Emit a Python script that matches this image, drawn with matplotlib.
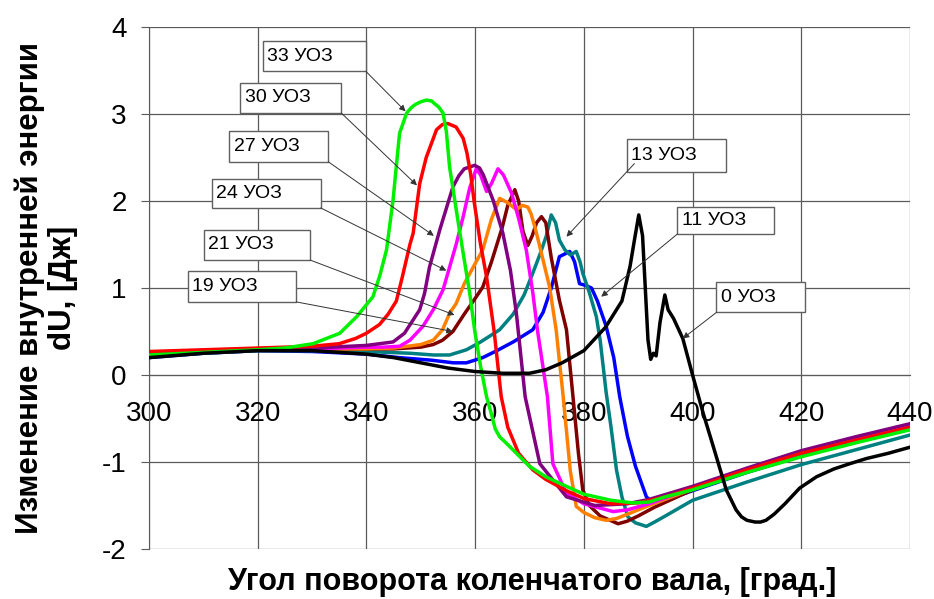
#!/usr/bin/env python3

import matplotlib
matplotlib.use("Agg")
import matplotlib.pyplot as plt
from matplotlib.patches import Rectangle

# curves: crank angle (deg) and dU (J)
x_0 = [300, 310, 320, 330, 340, 345, 350, 355, 360, 365, 370, 373, 376, 380, 384, 387, 388.5, 389.3, 390.1,
       390.8, 391.3, 391.8, 392.3, 392.8, 393.3, 394.0, 394.9, 395.5, 396.5, 398.2, 400, 402, 403.8, 406.2,
       408, 409, 410, 411.5, 412.5, 413.5, 415, 417, 419.7, 422.8, 426, 428.9, 432, 436, 440]
y_0 = [0.20, 0.25, 0.28, 0.28, 0.24, 0.20, 0.14, 0.08, 0.04, 0.02, 0.02, 0.06, 0.14, 0.28, 0.55, 0.85, 1.25, 1.55, 1.84,
       1.60, 1.00, 0.40, 0.18, 0.25, 0.22, 0.60, 0.92, 0.75, 0.65, 0.42, 0.00, -0.45, -0.82, -1.32,
       -1.55, -1.63, -1.67, -1.69, -1.69, -1.67, -1.60, -1.48, -1.30, -1.17, -1.08, -1.02, -0.96, -0.90, -0.83]

x_11 = [300, 310, 320, 330, 340, 346, 352, 356, 358.4, 361.4, 364, 367, 370.6, 372.5, 374, 375.5, 377.4, 378.3,
        379.2, 380.3, 381.4, 382.5, 384.1, 385.5, 386.6, 388, 389.5, 391.5, 392.5, 395, 400, 410, 420, 430, 440]
y_11 = [0.20, 0.25, 0.28, 0.27, 0.24, 0.20, 0.17, 0.14, 0.14, 0.20, 0.28, 0.38, 0.52, 0.72, 1.00, 1.36, 1.42, 1.30,
        1.05, 1.03, 1.00, 0.85, 0.56, 0.20, -0.25, -0.70, -1.05, -1.40, -1.46, -1.44, -1.33, -1.12, -0.93, -0.77, -0.62]

x_13 = [300, 310, 320, 330, 340, 348, 352.3, 355.3, 358.4, 361, 364.5, 367, 369, 370.6, 372, 373.1, 374.0, 374.8,
        375.5, 376.5, 377.5, 378.6, 379.3, 379.8, 381, 382.3, 383, 384.1, 385, 386, 387, 388.1, 389.5, 391.5,
        393, 395, 400, 410, 420, 430, 440]
y_13 = [0.21, 0.25, 0.28, 0.28, 0.27, 0.25, 0.23, 0.23, 0.29, 0.38, 0.52, 0.70, 0.92, 1.17, 1.40, 1.60, 1.84, 1.75,
        1.55, 1.44, 1.38, 1.42, 1.30, 1.17, 0.95, 0.67, 0.40, -0.20, -0.60, -1.09, -1.40, -1.63, -1.70, -1.74,
        -1.69, -1.62, -1.44, -1.23, -1.03, -0.86, -0.69]

x_19 = [300, 310, 320, 330, 340, 345, 350, 352.3, 354, 355.9, 358, 360, 361.4, 363, 365, 366, 367.3, 368, 368.8,
        369.7, 370.5, 371.3, 372.2, 373, 374, 375.5, 376.8, 378, 379, 379.8, 381, 383, 386.3, 388, 390, 393,
        400, 410, 420, 430, 440]
y_19 = [0.24, 0.27, 0.29, 0.30, 0.30, 0.30, 0.32, 0.35, 0.40, 0.50, 0.70, 0.88, 1.01, 1.30, 1.70, 1.95, 2.13, 2.00, 1.65,
        1.49, 1.60, 1.75, 1.82, 1.75, 1.35, 0.86, 0.52, -0.25, -0.90, -1.32, -1.50, -1.62, -1.71, -1.68, -1.62, -1.52,
        -1.32, -1.09, -0.89, -0.74, -0.59]

x_21 = [300, 310, 320, 330, 340, 345, 350, 352.3, 354, 355.3, 356.5, 358, 360, 361.4, 363, 364.5, 366, 367.6,
        368.7, 369.7, 370.3, 371, 372, 373.7, 374.9, 376.2, 377.5, 378.6, 380, 382, 384.1, 386, 388, 392,
        400, 410, 420, 430, 440]
y_21 = [0.24, 0.27, 0.29, 0.30, 0.30, 0.31, 0.35, 0.40, 0.52, 0.71, 0.82, 1.05, 1.28, 1.44, 1.79, 2.03, 1.98, 1.90,
        1.95, 1.93, 1.85, 1.70, 1.45, 1.01, 0.52, -0.25, -1.10, -1.51, -1.58, -1.64, -1.67, -1.65, -1.60, -1.50,
        -1.31, -1.09, -0.89, -0.74, -0.59]

x_24 = [300, 310, 320, 330, 340, 343, 346.1, 348, 350.4, 352.3, 354.1, 355.3, 356.5, 357.8, 359, 360.2, 361,
        362.1, 363, 364.2, 365.2, 366.7, 368, 369.4, 370.6, 371.5, 373.3, 374.3, 376.8, 380, 385.4, 388, 392,
        400, 410, 420, 430, 440]
y_24 = [0.24, 0.27, 0.29, 0.30, 0.32, 0.32, 0.33, 0.40, 0.56, 0.75, 0.98, 1.24, 1.50, 1.82, 2.15, 2.37, 2.30,
        2.11, 2.20, 2.37, 2.30, 2.09, 1.80, 1.44, 0.95, 0.50, -0.25, -1.02, -1.36, -1.48, -1.57, -1.55, -1.48,
        -1.30, -1.08, -0.88, -0.72, -0.58]

x_27 = [300, 310, 320, 330, 340, 344.9, 347, 349.8, 350.7, 351.6, 353.5, 355.9, 357, 358, 359.9, 360.8, 361.5, 363.3,
        365.1, 366.5, 367.6, 369.2, 371.9, 376.8, 382, 388, 392, 400, 410, 420, 430, 440]
y_27 = [0.25, 0.28, 0.30, 0.31, 0.34, 0.38, 0.48, 0.75, 0.94, 1.24, 1.67, 2.16, 2.29, 2.37, 2.41, 2.38, 2.30, 2.01,
        1.63, 1.20, 0.70, -0.25, -1.02, -1.40, -1.50, -1.48, -1.43, -1.28, -1.07, -0.87, -0.71, -0.56]

x_30 = [300, 310, 320, 330, 335, 338, 340, 342.4, 344, 345.5, 346.5, 348, 348.6, 349.8, 351, 352.9, 354, 355, 356.5,
        357.8, 358.5, 359.2, 359.8, 361, 362.1, 363.5, 364.8, 366, 368, 370.6, 373, 376.8, 380, 385, 390, 395,
        400, 410, 420, 430, 440]
y_30 = [0.27, 0.29, 0.31, 0.33, 0.36, 0.42, 0.48, 0.58, 0.70, 0.85, 1.10, 1.50, 1.63, 2.20, 2.50, 2.82, 2.88, 2.89, 2.85,
        2.72, 2.55, 2.30, 2.00, 1.50, 1.13, 0.50, -0.25, -0.60, -0.90, -1.09, -1.20, -1.33, -1.42, -1.48, -1.47, -1.40,
        -1.30, -1.09, -0.90, -0.75, -0.60]

x_33 = [300, 310, 320, 325, 330.2, 335.1, 338.2, 341.2, 342.5, 343.7, 344.9, 345.5, 346.1, 347.4, 348.2, 349, 350,
        351, 352, 352.5, 353.3, 354.1, 354.7, 355.3, 357.2, 359, 359.9, 361, 362.1, 363, 363.7, 364.5, 366, 367.6,
        370, 373, 376.8, 380, 385, 389, 392, 395, 400, 410, 420, 430, 440]
y_33 = [0.23, 0.26, 0.29, 0.31, 0.36, 0.48, 0.67, 0.90, 1.15, 1.44, 2.01, 2.40, 2.78, 3.01, 3.07, 3.11, 3.14,
        3.16, 3.15, 3.12, 3.08, 3.01, 2.80, 2.39, 1.63, 0.94, 0.52, 0.10, -0.25, -0.45, -0.62, -0.71, -0.80, -0.90,
        -1.05, -1.17, -1.28, -1.37, -1.44, -1.47, -1.46, -1.40, -1.32, -1.12, -0.94, -0.78, -0.63]

labels = ["0 УОЗ", "11 УОЗ", "13 УОЗ", "19 УОЗ", "21 УОЗ", "24 УОЗ", "27 УОЗ", "30 УОЗ", "33 УОЗ"]
xs = [x_0, x_11, x_13, x_19, x_21, x_24, x_27, x_30, x_33]
ys = [y_0, y_11, y_13, y_19, y_21, y_24, y_27, y_30, y_33]
colors = ["black", "#0000ff", "#008080", "#800000", "#ff8000", "#ff00ff", "#800080", "#ff0000", "#00f000"]

x_ticks = [300, 320, 340, 360, 380, 400, 420, 440]
y_ticks = [-2, -1, 0, 1, 2, 3, 4]

# callout boxes: (x0, x1, y0, y1) of box, arrow start, arrow tip
callouts = {
    "33 УОЗ": ((321.0, 339.9, 3.49, 3.84), (339.9, 3.49), (347.2, 3.03)),
    "30 УОЗ": ((316.8, 335.4, 3.01, 3.36), (335.4, 3.01), (349.3, 2.18)),
    "27 УОЗ": ((314.8, 333.0, 2.45, 2.80), (333.0, 2.45), (352.4, 1.60)),
    "24 УОЗ": ((311.5, 331.6, 1.92, 2.25), (331.6, 1.92), (354.7, 1.20)),
    "21 УОЗ": ((310.1, 329.7, 1.32, 1.67), (329.7, 1.32), (356.2, 0.69)),
    "19 УОЗ": ((307.2, 327.1, 0.84, 1.19), (327.1, 0.84), (355.9, 0.50)),
    "13 УОЗ": ((387.9, 406.1, 2.33, 2.71), (389.3, 2.43), (376.8, 1.59)),
    "11 УОЗ": ((397.2, 414.9, 1.62, 1.93), (397.2, 1.62), (383.2, 0.90)),
    "0 УОЗ": ((404.4, 420.6, 0.72, 1.07), (404.4, 0.72), (398.2, 0.42)),
}


def main():
    plt.rcParams['font.family'] = ['Liberation Sans', 'DejaVu Sans']
    plt.rcParams['axes.unicode_minus'] = False

    fig = plt.figure(figsize=(9.34, 5.99), dpi=100)
    ax = fig.add_axes([149 / 934, 1 - 549 / 599, 761 / 934, 522 / 599])

    order = [1, 2, 3, 4, 5, 6, 7, 8, 0]
    for i in order:
        ax.plot(xs[i], ys[i], color=colors[i], lw=2.5, solid_joinstyle='round', zorder=3)

    ax.set_xlim(300, 440)
    ax.set_ylim(-2, 4)
    ax.set_xticks(x_ticks)
    ax.set_yticks(y_ticks)
    ax.grid(True, color='#5a5a5a', lw=0.9)
    ax.set_axisbelow(True)

    ax.spines['bottom'].set_position(('data', 0))
    ax.spines['bottom'].set_color('#5a5a5a')
    ax.spines['left'].set_color('#5a5a5a')
    ax.spines['top'].set_visible(False)
    ax.spines['right'].set_visible(False)
    ax.tick_params(axis='x', length=0, pad=19, labelsize=20)
    ax.tick_params(axis='y', direction='out', length=6, color='#5a5a5a', pad=10, labelsize=20)

    for name, (box, start, tip) in callouts.items():
        x0, x1, y0, y1 = box
        ax.add_patch(Rectangle((x0, y0), x1 - x0, y1 - y0, fc='white', ec='#606060', lw=1.0, zorder=5))
        ax.text(x0 + 0.8, (y0 + y1) / 2, name, fontsize=14, ha='left', va='center', zorder=6)
        ax.annotate('', xy=tip, xytext=start, zorder=6,
                    arrowprops=dict(arrowstyle='-|>', color='#333333', lw=0.7, mutation_scale=9,
                                    shrinkA=0, shrinkB=0))

    ax.set_xlabel('Угол поворота коленчатого вала, [град.]', fontsize=22, fontweight='bold')
    ax.xaxis.set_label_coords(0.503, -0.034)
    ax.set_ylabel('Изменение внутренней энергии\ndU, [Дж]', fontsize=22.5, fontweight='bold',
                  linespacing=1.15)
    ax.yaxis.set_label_coords(-0.093, 0.5)

    fig.savefig('out.png', dpi=100)


if __name__ == "__main__":
    main()
